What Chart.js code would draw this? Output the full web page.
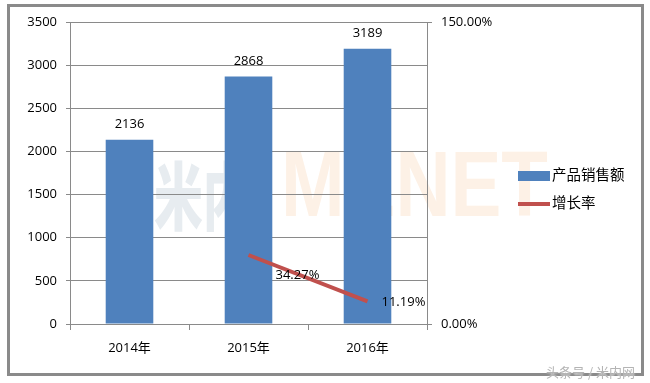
<!DOCTYPE html>
<html>
<head>
<meta charset="utf-8">
<script src="https://cdn.jsdelivr.net/npm/chart.js@4"></script>
<style>
  body { margin: 0; background: #fff; }
  #wrap { position: relative; width: 650px; height: 383px; overflow: hidden; }
  .mark { position: absolute; white-space: nowrap; line-height: 1; transform-origin: left top; }
  #markCn { left: 154px; top: 138px; font: 900 74px 'Noto Sans CJK SC', sans-serif; color: #e7ecf0; transform: scaleX(0.66); }
  #markEn { left: 281px; top: 131px; font: bold 93px 'Liberation Sans', sans-serif; color: #fdf1e6; transform: scaleX(0.82); }
  #frame { position: absolute; left: 7px; top: 4px; width: 631px; height: 366px; border: 3px solid #8a8a8a; }
  #src { position: absolute; left: 546px; top: 362px; font: 13px 'Noto Sans CJK SC', sans-serif; color: #b4b4b4;
         text-shadow: 0 0 2px #fff; }
  canvas { position: absolute; left: 0; top: 0; }
</style>
</head>
<body>
<div id="wrap">
  <div class="mark" id="markCn">米内</div>
  <div class="mark" id="markEn">MENET</div>
  <canvas id="myChart" width="650" height="383"></canvas>
  <div id="frame"></div>
  <div id="src">头条号 / 米内网</div>
</div>
<script>
const categories = ['2014年', '2015年', '2016年'];
const salesValues = [2136, 2868, 3189];
const growthValues = [null, 0.3427, 0.1119];
const growthLabels = ['', '34.27%', '11.19%'];
const rightTickLabels = { 0: '0.00%', 1.5: '150.00%' };

const FONT = "'Open Sans', 'Noto Sans CJK SC', sans-serif";
const GRID = '#8a8a8a';

// labels drawn above bars and beside line points
const valueLabels = {
  id: 'valueLabels',
  afterDatasetsDraw(chart) {
    const ctx = chart.ctx;
    ctx.save();
    ctx.font = '13px ' + FONT;
    ctx.fillStyle = '#000';
    chart.getDatasetMeta(0).data.forEach((bar, i) => {
      ctx.textAlign = 'center';
      ctx.textBaseline = 'bottom';
      ctx.fillText(String(salesValues[i]), bar.x, bar.y - 9);
    });
    const offs = [null, [27, 20], [14, 1]];
    chart.getDatasetMeta(1).data.forEach((pt, i) => {
      if (growthValues[i] == null) return;
      ctx.textAlign = 'left';
      ctx.textBaseline = 'middle';
      ctx.fillText(growthLabels[i], pt.x + offs[i][0], pt.y + offs[i][1]);
    });
    ctx.restore();
  }
};

// legend like the office chart
const sideLegend = {
  id: 'sideLegend',
  afterDraw(chart) {
    const ctx = chart.ctx;
    ctx.save();
    ctx.fillStyle = '#4f81bd';
    ctx.fillRect(518, 171, 32, 10);
    ctx.strokeStyle = '#c0504d';
    ctx.lineWidth = 4;
    ctx.beginPath();
    ctx.moveTo(518, 204);
    ctx.lineTo(550, 204);
    ctx.stroke();
    ctx.fillStyle = '#000';
    ctx.font = '14.5px ' + FONT;
    ctx.textBaseline = 'middle';
    ctx.textAlign = 'left';
    ctx.fillText(chart.data.datasets[0].label, 552, 176);
    ctx.fillText(chart.data.datasets[1].label, 552, 204);
    ctx.restore();
  }
};

const ctx = document.getElementById('myChart').getContext('2d');
new Chart(ctx, {
  data: {
    labels: categories,
    datasets: [{
      type: 'bar',
      label: '产品销售额',
      data: salesValues,
      backgroundColor: '#4f81bd',
      categoryPercentage: 1,
      barPercentage: 0.4,
      yAxisID: 'y',
      order: 2
    }, {
      type: 'line',
      label: '增长率',
      data: growthValues,
      borderColor: '#c0504d',
      borderWidth: 4,
      pointRadius: 0,
      yAxisID: 'y1',
      order: 1
    }]
  },
  options: {
    responsive: false,
    animation: false,
    layout: { padding: { top: 22, left: 0, right: 0, bottom: 0 } },
    plugins: { legend: { display: false }, tooltip: { enabled: false } },
    scales: {
      x: {
        offset: true,
        grid: { offset: true, drawOnChartArea: false, color: GRID, tickLength: 6 },
        border: { color: GRID },
        ticks: { color: '#000', font: { family: FONT, size: 13 }, padding: 10 },
        afterFit(s) { s.height = 59; }
      },
      y: {
        position: 'left',
        min: 0, max: 3500,
        ticks: {
          stepSize: 500, color: '#000', font: { family: FONT, size: 13 }, padding: 9,
          callback: v => String(v)
        },
        grid: { color: GRID, tickLength: 4 },
        border: { color: GRID },
        afterFit(s) { s.width = 70; }
      },
      y1: {
        position: 'right',
        min: 0, max: 1.5,
        ticks: {
          stepSize: 1.5, color: '#000', font: { family: FONT, size: 13 }, padding: 9,
          callback: v => rightTickLabels[v]
        },
        grid: { drawOnChartArea: false, color: GRID, tickLength: 5 },
        border: { color: GRID },
        afterFit(s) { s.width = 223; }
      }
    }
  },
  plugins: [valueLabels, sideLegend]
});
</script>
</body>
</html>
